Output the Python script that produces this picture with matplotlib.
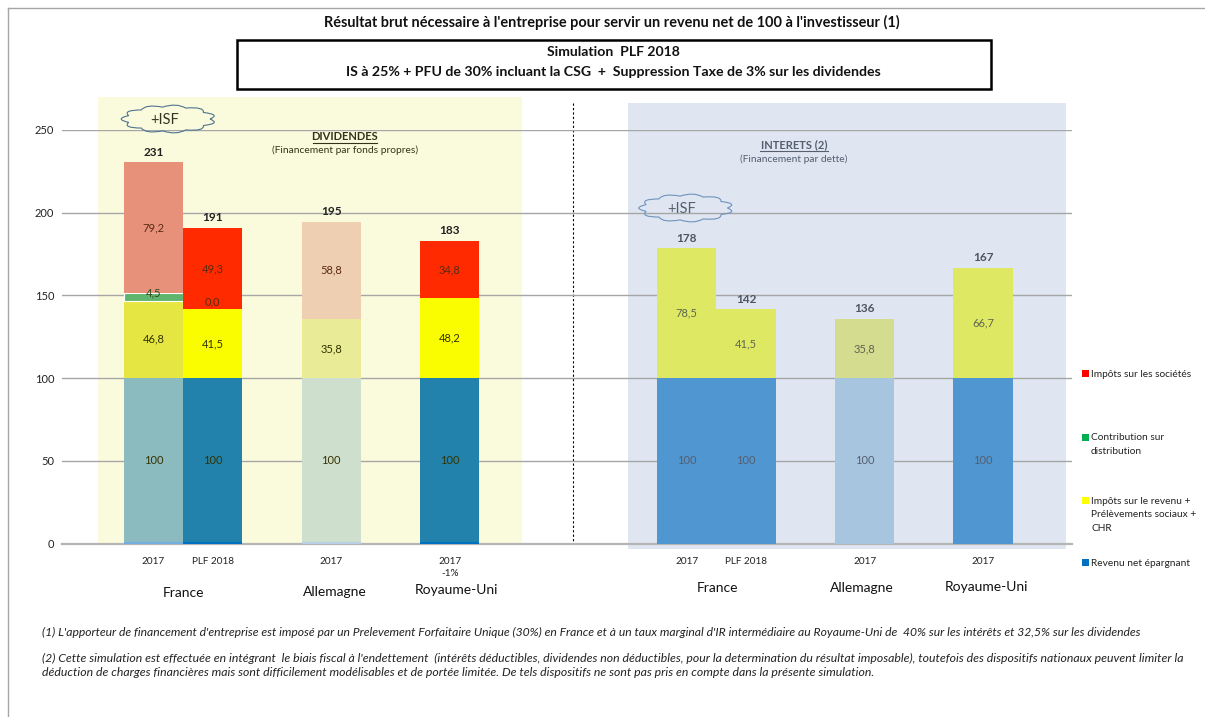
import matplotlib.pyplot as plt
from matplotlib.path import Path
from matplotlib.patches import PathPatch, Rectangle
import numpy as np

plt.rcParams['font.family'] = ['Lato', 'DejaVu Sans']

W, H = 1205, 717

# dividends panel then interest panel, each bar is one slot of the chart
positions = [0, 1, 3, 5, 9, 10, 12, 14]
tick_labels = ['2017', 'PLF 2018', '2017', '2017\n-1%', '2017', 'PLF 2018', '2017', '2017']
net_income = [100, 100, 100, 100, 100, 100, 100, 100]
income_tax = [46.8, 41.5, 35.8, 48.2, 78.5, 41.5, 35.8, 66.7]
distribution = [4.5, 0.0, 0, 0, 0, 0, 0, 0]
corp_tax = [79.2, 49.3, 58.8, 34.8, 0, 0, 0, 0]
totals = [231, 191, 195, 183, 178, 142, 136, 167]
y_ticks = [0, 50, 100, 150, 200, 250]

blue_cols = ['#8bbabf', '#2282ab', '#cfdfce', '#2282ab', '#5096d0', '#5096d0', '#a7c5de', '#5096d0']
yellow_cols = ['#e6e642', '#fafc00', '#e9eb96', '#fafc00', '#dfe862', '#dfe862', '#d4dc90', '#dfe862']
red_cols = ['#e8917a', '#ff2a00', '#efcfb2', '#ff2a00', 'none', 'none', 'none', 'none']
base_cols = ['#74aede', '#0070c0', '#b9cfe4', '#0070c0', '#5096d0', '#5096d0', '#a7c5de', '#5096d0']
green_edges = ['white', 'none', 'none', 'none', 'none', 'none', 'none', 'none']

fig = plt.figure(figsize=(W / 100, H / 100), dpi=100)

# page layer in pixel coordinates
page = fig.add_axes([0, 0, 1, 1], zorder=0)
page.set_xlim(0, W)
page.set_ylim(H, 0)
page.axis('off')

page.add_patch(Rectangle((98, 97), 424, 446, color='#fafbdc', lw=0))
page.add_patch(Rectangle((628, 103), 438, 446, color='#dfe6f1', lw=0))
page.plot([8, 8], [8, H], color='#a6a6a6', lw=1)
page.plot([8, W], [8, 8], color='#a6a6a6', lw=1)
page.plot([573, 573], [103, 543], color='black', lw=0.8, ls=(0, (2, 2)))

# chart
ax = fig.add_axes([62 / W, 1 - 543.5 / H, 1010 / W, 413.5 / H], zorder=1)
ax.patch.set_alpha(0)
ax.set_xlim(-1.544, 15.5)
ax.set_ylim(0, 250)
for s in ['top', 'right', 'left', 'bottom']:
    ax.spines[s].set_visible(False)

ax.bar(positions, net_income, width=1, color=blue_cols, zorder=2)
ax.bar(positions, income_tax, width=1, bottom=net_income, color=yellow_cols, zorder=2)
bot = np.array(net_income) + np.array(income_tax)
ax.bar(positions, distribution, width=1, bottom=bot, color='#5fb56e', edgecolor=green_edges, lw=0.8, zorder=2)
bot = bot + np.array(distribution)
ax.bar(positions, corp_tax, width=1, bottom=bot, color=red_cols, zorder=2)

for i, x in enumerate(positions):
    ax.plot([x - 0.5, x + 0.5], [0.4, 0.4], color=base_cols[i], lw=1.6, zorder=3.5, solid_capstyle='butt')

ax.set_yticks(y_ticks)
ax.set_xticks(positions)
ax.set_xticklabels(tick_labels, fontsize=7.2, color='#222222', linespacing=1.35)
ax.tick_params(axis='x', length=0, pad=10)
ax.tick_params(axis='y', length=0, pad=5.5, labelsize=8, labelcolor='#222222')
ax.grid(axis='y', color='#a6a6a6', lw=1, zorder=3)
ax.plot([-1.544, 15.5], [0, 0], color='#b5b5b5', lw=1.6, zorder=3, clip_on=False)


def fr(v):
    return f'{v:.1f}'.replace('.', ',')


# value labels inside segments
for i, x in enumerate(positions):
    dark = i < 4
    col = '#333300' if dark else '#5f6650'
    ax.text(x, 50, '100', ha='center', va='center', fontsize=8, color=col if dark else '#555f70', zorder=4)
    ax.text(x, 100 + income_tax[i] / 2, fr(income_tax[i]), ha='center', va='center',
            fontsize=8, color=col, zorder=4)
    if corp_tax[i]:
        y0 = 100 + income_tax[i] + distribution[i]
        ax.text(x, y0 + corp_tax[i] / 2, fr(corp_tax[i]), ha='center', va='center',
                fontsize=8, color='#5a2a10', zorder=4)
    ax.text(x, 100 + income_tax[i] + distribution[i] + corp_tax[i] + 6, str(totals[i]),
            ha='center', va='center', fontsize=8.5, fontweight='bold',
            color='#222222' if dark else '#4d5563', zorder=4)
ax.text(0, 151.6, fr(distribution[0]), ha='center', va='center', fontsize=8, color='#2f4a20', zorder=4)
ax.text(1, 146, fr(distribution[1]), ha='center', va='center', fontsize=8, color='#5a2a10', zorder=4)


# overlay text
top = fig.add_axes([0, 0, 1, 1], zorder=5)
top.set_xlim(0, W)
top.set_ylim(H, 0)
top.axis('off')


def label(x, y, s, size=8, **kw):
    kw.setdefault('ha', 'center')
    kw.setdefault('va', 'center')
    kw.setdefault('color', '#111111')
    top.text(x, y, s, fontsize=size, **kw)


label(612, 22, "Résultat brut nécessaire à l'entreprise pour servir un revenu net de 100 à l'investisseur (1)",
      size=10.45, fontweight='bold')
top.add_patch(Rectangle((237, 40), 754, 49, fc='white', ec='black', lw=1.8))
label(613, 52, 'Simulation  PLF 2018', size=10.1, fontweight='bold')
label(613, 72, 'IS à 25% + PFU de 30% incluant la CSG  +  Suppression Taxe de 3% sur les dividendes',
      size=10.2, fontweight='bold')

label(345, 137, 'DIVIDENDES', size=8, fontweight='bold', color='#33331a')
top.plot([313, 377], [143, 143], color='#33331a', lw=0.8)
label(345, 150.5, '(Financement par fonds propres)', size=7.35, color='#33331a')
label(794, 145, 'INTERETS (2)', size=8, fontweight='bold', color='#555f70')
top.plot([760, 828], [151, 151], color='#555f70', lw=0.8)
label(794, 159.5, '(Financement par dette)', size=7.4, color='#555f70')

for x, y, s in [(184, 593, 'France'), (335, 592, 'Allemagne'), (456, 590.5, 'Royaume-Uni'),
                (718, 587.5, 'France'), (862, 588, 'Allemagne'), (987, 587, 'Royaume-Uni')]:
    label(x, y, s, size=10)


# hand drawn clouds
def cloud(cx, cy, rx, ry, col, n=11):
    a = np.linspace(0, 2 * np.pi, n + 1)
    verts = [(cx + rx * np.cos(a[0]), cy + ry * np.sin(a[0]))]
    codes = [Path.MOVETO]
    for a0, a1 in zip(a[:-1], a[1:]):
        m = (a0 + a1) / 2
        verts.append((cx + 1.32 * rx * np.cos(m), cy + 1.38 * ry * np.sin(m)))
        verts.append((cx + rx * np.cos(a1), cy + ry * np.sin(a1)))
        codes += [Path.CURVE3, Path.CURVE3]
    top.add_patch(PathPatch(Path(verts, codes), fc='none', ec=col, lw=0.8))


cloud(168.5, 119, 41.5, 12, '#4f7390')
label(164.5, 120.5, '+ISF', size=10.5, color='#333322')
cloud(686, 208, 41.5, 12, '#6f93bd')
label(682, 209, '+ISF', size=10.5, color='#555f70')

# legend
legend_cols = ['#ff0000', '#00b050', '#ffff00', '#0070c0']
legend_labels = ['Impôts sur les sociétés', 'Contribution sur\ndistribution',
                 'Impôts sur le revenu +\nPrélèvements sociaux +\nCHR', 'Revenu net épargnant']
legend_y = [373.5, 437, 500, 562.5]
for col, txt, y in zip(legend_cols, legend_labels, legend_y):
    top.add_patch(Rectangle((1082, y - 3.5), 7, 7, color=col, lw=0))
    top.text(1091, y - 3.5, txt, fontsize=7.3, va='top', ha='left', color='#222222', linespacing=1.65)

# footnotes
notes = [
    (632, 8.7, "(1) L'apporteur de financement d'entreprise est imposé par un Prelevement Forfaitaire Unique (30%) en France et à un taux marginal d'IR intermédiaire au Royaume-Uni de  40% sur les intérêts et 32,5% sur les dividendes"),
    (658, 8.87, "(2) Cette simulation est effectuée en intégrant  le biais fiscal à l'endettement  (intérêts déductibles, dividendes non déductibles, pour la determination du résultat imposable), toutefois des dispositifs nationaux peuvent limiter la"),
    (672, 8.85, "déduction de charges financières mais sont difficilement modélisables et de portée limitée. De tels dispositifs ne sont pas pris en compte dans la présente simulation."),
]
for y, size, s in notes:
    top.text(42, y, s, fontsize=size, style='italic', ha='left', va='center', color='#222222')

fig.savefig('out.png', dpi=100)
